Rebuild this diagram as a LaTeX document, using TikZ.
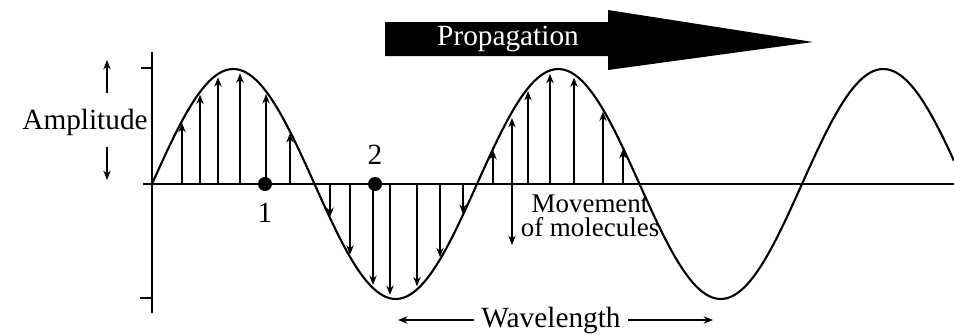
\documentclass[tikz,border=0pt]{standalone}
\usepackage{fontspec}
\setmainfont{Liberation Serif}
\usetikzlibrary{arrows.meta}
\tikzset{
  mol/.style={-{Stealth[length=1.4mm,width=1.1mm]},line width=0.6pt},
  mol2/.style={{Stealth[length=1.4mm,width=1.1mm]}-{Stealth[length=1.4mm,width=1.1mm]},line width=0.6pt},
  wave/.style={line width=0.9pt},
  axis/.style={line width=0.8pt},
  lbl/.style={font=\fontsize{12.5}{14}\selectfont,inner sep=1pt},
  blob/.style={circle,fill=black,inner sep=0pt,minimum size=2.1mm},
}
\newcommand\wavey[2]{184-#2*115*sin(1.107692*(#1-152))}

\begin{document}
\begin{tikzpicture}[x=0.15mm,y=-0.15mm]
\useasboundingbox (0,0) rectangle (954,334);
\draw[axis] (143,184) -- (954,184);
\draw[axis] (152,52) -- (152,313);
\draw[axis] (141,68) -- (152,68);
\draw[axis] (140,298) -- (152,298);
\draw[wave] plot[domain=152:954,samples=240] (\x,{\wavey{\x}{1}});
\foreach \x in {182,200,218,240,266,290,330,350,373,390,417,440,463,493,528,550,574,603,623}
  \draw[mol] (\x,184) -- (\x,{\wavey{\x}{0.97}});
\node[blob] (dotA) at (265,184) {};
\node[blob] (dotB) at (375,184) {};
\node[lbl,below=7pt] (numA) at (dotA) {1};
\node[lbl,above=7pt] (numB) at (dotB) {2};
\coordinate (mtop) at (512,118);
\coordinate (mbot) at (512,245);
\draw[mol2] (mtop) -- (mbot);
\node[lbl,align=center,font=\fontsize{11.5}{10.5}\selectfont] (move) at (590,216) {Movement\\of molecules};
\node[lbl] (amp) at (85,122) {Amplitude};
\coordinate (ampup) at (107,60);
\coordinate (ampdn) at (107,180);
\draw[mol] (107,93) -- (ampup);
\draw[mol] (107,147) -- (ampdn);
\fill (385,22) -- (608,22) -- (608,10) -- (813,42) -- (608,70) -- (608,56) -- (385,56) -- cycle;
\node[lbl,text=white] (prop) at (508,39) {Propagation};
\node[lbl,inner sep=3pt] (wl) at (551,320) {Wavelength};
\coordinate (wlL) at (398,320);
\coordinate (wlR) at (713,320);
\draw[mol] (wl.west) -- (wlL);
\draw[mol] (wl.east) -- (wlR);
\end{tikzpicture}
\end{document}
